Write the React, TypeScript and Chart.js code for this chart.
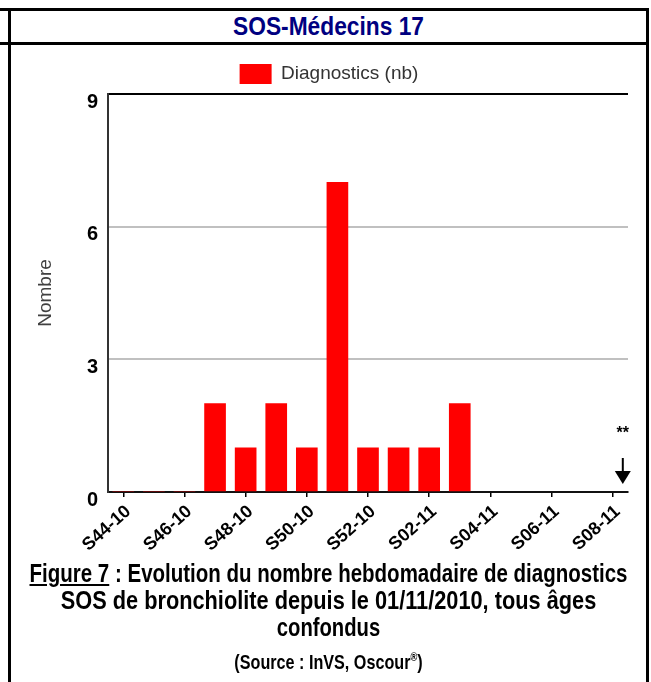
import React, { useEffect, useRef } from 'react';
import { Chart, registerables } from 'chart.js';

Chart.register(...registerables);

// ---- data ----
const weeks = [
  'S44-10', 'S45-10', 'S46-10', 'S47-10', 'S48-10', 'S49-10', 'S50-10', 'S51-10', 'S52-10',
  'S01-11', 'S02-11', 'S03-11', 'S04-11', 'S05-11', 'S06-11', 'S07-11', 'S08-11',
];
const diagnostics: (number | null)[] = [0, 0, 0, 2, 1, 2, 1, 7, 1, 1, 1, 2, null, null, null, null, null];
const yTicks = [0, 3, 6, 9];
const seriesLabel = 'Diagnostics (nb)';
const yTitle = 'Nombre';
const chartTitle = 'SOS-Médecins 17';
const markerWeek = 'S08-11';
const markerText = '**';

const ARIAL = "'Liberation Sans', Arial, sans-serif";

const markerPlugin = {
  id: 'marker',
  afterDatasetsDraw(chart: any) {
    const xs = chart.scales.x;
    const ys = chart.scales.y;
    const ctx = chart.ctx;
    const step = xs.width / weeks.length;
    const px = xs.getPixelForValue(weeks.indexOf(markerWeek)) + step * 0.33;
    const base = ys.getPixelForValue(0);
    ctx.save();
    ctx.fillStyle = '#000';
    ctx.strokeStyle = '#000';
    ctx.font = `bold 16px ${ARIAL}`;
    ctx.textAlign = 'center';
    ctx.textBaseline = 'middle';
    ctx.fillText(markerText, px, base - 58);
    ctx.lineWidth = 2;
    ctx.beginPath();
    ctx.moveTo(px, base - 34);
    ctx.lineTo(px, base - 20);
    ctx.stroke();
    ctx.beginPath();
    ctx.moveTo(px - 8, base - 21);
    ctx.lineTo(px + 8, base - 21);
    ctx.lineTo(px, base - 8);
    ctx.closePath();
    ctx.fill();
    ctx.restore();
  },
};

function BarChart() {
  const ref = useRef<HTMLCanvasElement>(null);
  useEffect(() => {
    if (!ref.current) return;
    const chart = new Chart(ref.current, {
      type: 'bar',
      data: {
        labels: weeks,
        datasets: [
          {
            label: seriesLabel,
            data: diagnostics,
            backgroundColor: '#ff0000',
            borderWidth: 0,
            barThickness: 21,
          },
        ],
      },
      options: {
        responsive: false,
        animation: false,
        layout: { padding: { top: 6, right: 18, bottom: 0, left: 20 } },
        plugins: {
          legend: {
            position: 'top',
            labels: {
              boxWidth: 32,
              boxHeight: 20,
              padding: 10,
              color: '#333',
              font: { family: ARIAL, size: 19 },
            },
          },
          tooltip: { enabled: false },
        },
        scales: {
          x: {
            type: 'category',
            offset: true,
            afterFit(scale: any) {
              scale.height = 70;
              scale.paddingLeft = 0;
              scale.paddingRight = 0;
            },
            border: { color: '#111', width: 2 },
            grid: {
              offset: false,
              drawOnChartArea: false,
              tickLength: 5,
              lineWidth: 1.5,
              color: (c: any) => (c.index % 2 === 0 ? '#000' : 'rgba(0,0,0,0)'),
            },
            ticks: {
              autoSkip: false,
              minRotation: 42,
              maxRotation: 42,
              padding: 4,
              labelOffset: 5,
              color: '#000',
              font: { family: ARIAL, size: 18, weight: 'bold' },
              callback: (_v: any, i: number) => (i % 2 === 0 ? weeks[i] : ''),
            },
          },
          y: {
            min: 0,
            max: 9,
            afterFit(scale: any) {
              scale.width = 78;
              scale.paddingTop = 50;
            },
            afterBuildTicks(scale: any) {
              scale.ticks = yTicks.map((v) => ({ value: v }));
            },
            border: { color: '#333', width: 2 },
            grid: {
              drawTicks: false,
              lineWidth: 2,
              color: (c: any) => (c.tick && c.tick.value === 9 ? '#000' : '#c0c0c0'),
            },
            ticks: {
              padding: 10,
              labelOffset: 8,
              color: '#000',
              font: { family: ARIAL, size: 20, weight: 'bold' },
            },
            title: {
              display: true,
              text: yTitle,
              color: '#404040',
              font: { family: ARIAL, size: 19 },
              padding: { top: 4, bottom: 0 },
            },
          },
        },
      },
      plugins: [markerPlugin],
    });
    return () => chart.destroy();
  }, []);
  return <canvas ref={ref} width={636} height={518} style={{ width: 636, height: 518, display: 'block' }} />;
}

const capLine = (sx: number): React.CSSProperties => ({
  width: 635,
  display: 'flex',
  justifyContent: 'center',
  transform: `scaleX(${sx})`,
  transformOrigin: '50% 50%',
  whiteSpace: 'nowrap',
});

export default function App() {
  const line = (s: React.CSSProperties) => <div style={{ position: 'absolute', background: '#000', ...s }} />;
  return (
    <div style={{ position: 'absolute', left: 0, top: 0, width: 651, height: 682, background: '#fff', overflow: 'hidden' }}>
      {line({ left: 0, top: 8, width: 649, height: 3 })}
      {line({ left: 0, top: 42, width: 649, height: 3 })}
      {line({ left: 8, top: 8, width: 3, height: 682 })}
      {line({ left: 646, top: 8, width: 3, height: 682 })}
      <div
        style={{
          position: 'absolute', left: 11, top: 11, height: 31,
          lineHeight: '31px', fontFamily: ARIAL, fontWeight: 'bold',
          fontSize: 26, color: '#000080', ...capLine(0.875),
        }}
      >
        <span>{chartTitle}</span>
      </div>
      <div style={{ position: 'absolute', left: 10, top: 44 }}>
        <BarChart />
      </div>
      <div
        style={{
          position: 'absolute', left: 11, top: 560, width: 635,
          fontFamily: ARIAL, fontWeight: 'bold', fontSize: 25, lineHeight: '27px', color: '#000',
        }}
      >
        <div style={capLine(0.82)}>
          <span>
            <span style={{ textDecoration: 'underline' }}>Figure 7</span> : Evolution du nombre hebdomadaire de diagnostics
          </span>
        </div>
        <div style={capLine(0.87)}>
          <span>SOS de bronchiolite depuis le 01/11/2010, tous âges</span>
        </div>
        <div style={capLine(0.81)}>
          <span>confondus</span>
        </div>
        <div style={{ ...capLine(0.77), fontSize: 21, lineHeight: '26px', marginTop: 3 }}>
          <span>
            (Source : InVS, Oscour<sup style={{ fontSize: 12 }}>®</sup>)
          </span>
        </div>
      </div>
    </div>
  );
}
